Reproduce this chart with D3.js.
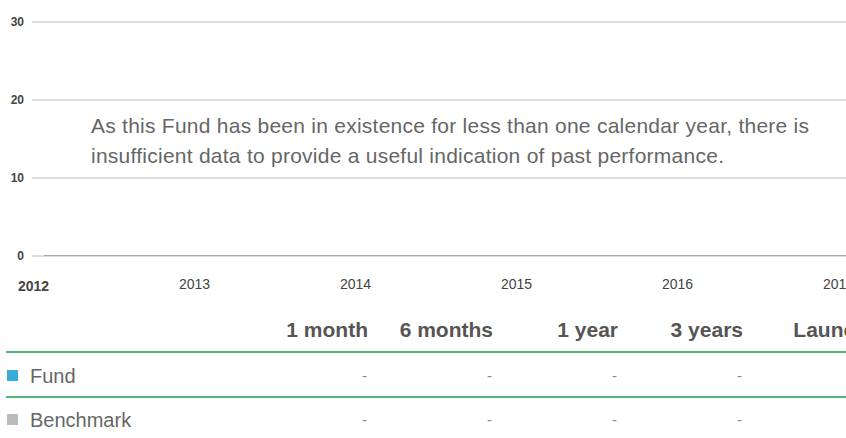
<!DOCTYPE html>
<html lang="en">
<head>
<meta charset="utf-8">
<title>Past performance</title>
<script src="https://cdn.jsdelivr.net/npm/d3@7"></script>
<style>
  body { margin: 0; background: #fff; }
  text { font-family: "Liberation Sans", Arial, sans-serif; }
</style>
</head>
<body>
<script>
// chart data
var years = [2012, 2013, 2014, 2015, 2016, 2017];
var yTicks = [0, 10, 20, 30];
var message = ["As this Fund has been in existence for less than one calendar year, there is",
               "insufficient data to provide a useful indication of past performance."];

// table data
var periods = ["1 month", "6 months", "1 year", "3 years", "Launch"];
var seriesNames = ["Fund", "Benchmark"];
var seriesColors = ["#36acd6", "#bbbbbb"];
var fundValues = ["-", "-", "-", "-", ""];
var benchmarkValues = ["-", "-", "-", "-", ""];

var w = 846, h = 438;

var svg = d3.select("body").append("svg")
  .attr("width", w)
  .attr("height", h);

var x = d3.scaleLinear().domain([2012, 2017]).range([33, 838]);
var y = d3.scaleLinear().domain([0, 30]).range([255.5, 21.5]);

// gridlines + y labels
var yAxis = d3.axisLeft(y).tickValues(yTicks).tickSize(-(w - 32)).tickPadding(8);
var gy = svg.append("g").attr("transform", "translate(32,0)").call(yAxis);
gy.select(".domain").remove();
gy.selectAll(".tick line").attr("stroke", "#b8b8b8").attr("stroke-width", 1);
gy.selectAll(".tick text")
  .attr("fill", "#444").attr("font-size", 12).attr("font-weight", "bold")
  .attr("font-family", "Liberation Sans, Arial, sans-serif");

// baseline a little darker after the first label
svg.append("line")
  .attr("x1", 44).attr("x2", w)
  .attr("y1", y(0)).attr("y2", y(0))
  .attr("stroke", "#a8a8a8");

// x labels
var xAxis = d3.axisBottom(x).tickValues(years).tickSize(0).tickFormat(d3.format("d")).tickPadding(0);
var gx = svg.append("g").attr("transform", "translate(0,289)").call(xAxis);
gx.select(".domain").remove();
gx.selectAll(".tick text")
  .attr("fill", "#444").attr("font-size", 14)
  .attr("font-family", "Liberation Sans, Arial, sans-serif")
  .attr("font-weight", function(d) { return d === 2012 ? "bold" : "normal"; })
  .attr("dy", function(d) { return d === 2012 ? 2 : 0; });

// no-data message
svg.selectAll("text.msg")
  .data(message)
  .enter()
  .append("text")
  .attr("class", "msg")
  .attr("x", 91)
  .attr("y", function(d, i) { return 133 + i * 30; })
  .attr("fill", "#666")
  .attr("font-size", 21)
  .attr("letter-spacing", 0.25)
  .text(function(d) { return d; });

// performance table
var colX = d3.scalePoint().domain(periods).range([368, 868]);

svg.selectAll("text.head")
  .data(periods)
  .enter()
  .append("text")
  .attr("class", "head")
  .attr("x", function(d) { return colX(d); })
  .attr("y", 337)
  .attr("text-anchor", "end")
  .attr("fill", "#555")
  .attr("font-size", 21)
  .attr("font-weight", "bold")
  .text(function(d) { return d; });

svg.selectAll("line.rule")
  .data([352, 397])
  .enter()
  .append("line")
  .attr("class", "rule")
  .attr("x1", 6).attr("x2", w)
  .attr("y1", function(d) { return d; }).attr("y2", function(d) { return d; })
  .attr("stroke", "#17a04c").attr("stroke-width", 1.5);

var rows = [fundValues, benchmarkValues];
var rowG = svg.selectAll("g.row")
  .data(rows)
  .enter()
  .append("g")
  .attr("class", "row")
  .attr("transform", function(d, i) { return "translate(0," + (383 + i * 44) + ")"; });

rowG.append("rect")
  .attr("x", 7).attr("y", -13)
  .attr("width", 11).attr("height", 11)
  .attr("fill", function(d, i) { return seriesColors[i]; });

rowG.append("text")
  .attr("x", 30).attr("y", 0)
  .attr("fill", "#666").attr("font-size", 20)
  .text(function(d, i) { return seriesNames[i]; });

rowG.selectAll("text.val")
  .data(function(d) { return d; })
  .enter()
  .append("text")
  .attr("class", "val")
  .attr("x", function(d, i) { return colX(periods[i]) - 1; })
  .attr("y", -2)
  .attr("text-anchor", "end")
  .attr("fill", "#888").attr("font-size", 15)
  .text(function(d) { return d; });
</script>
</body>
</html>
